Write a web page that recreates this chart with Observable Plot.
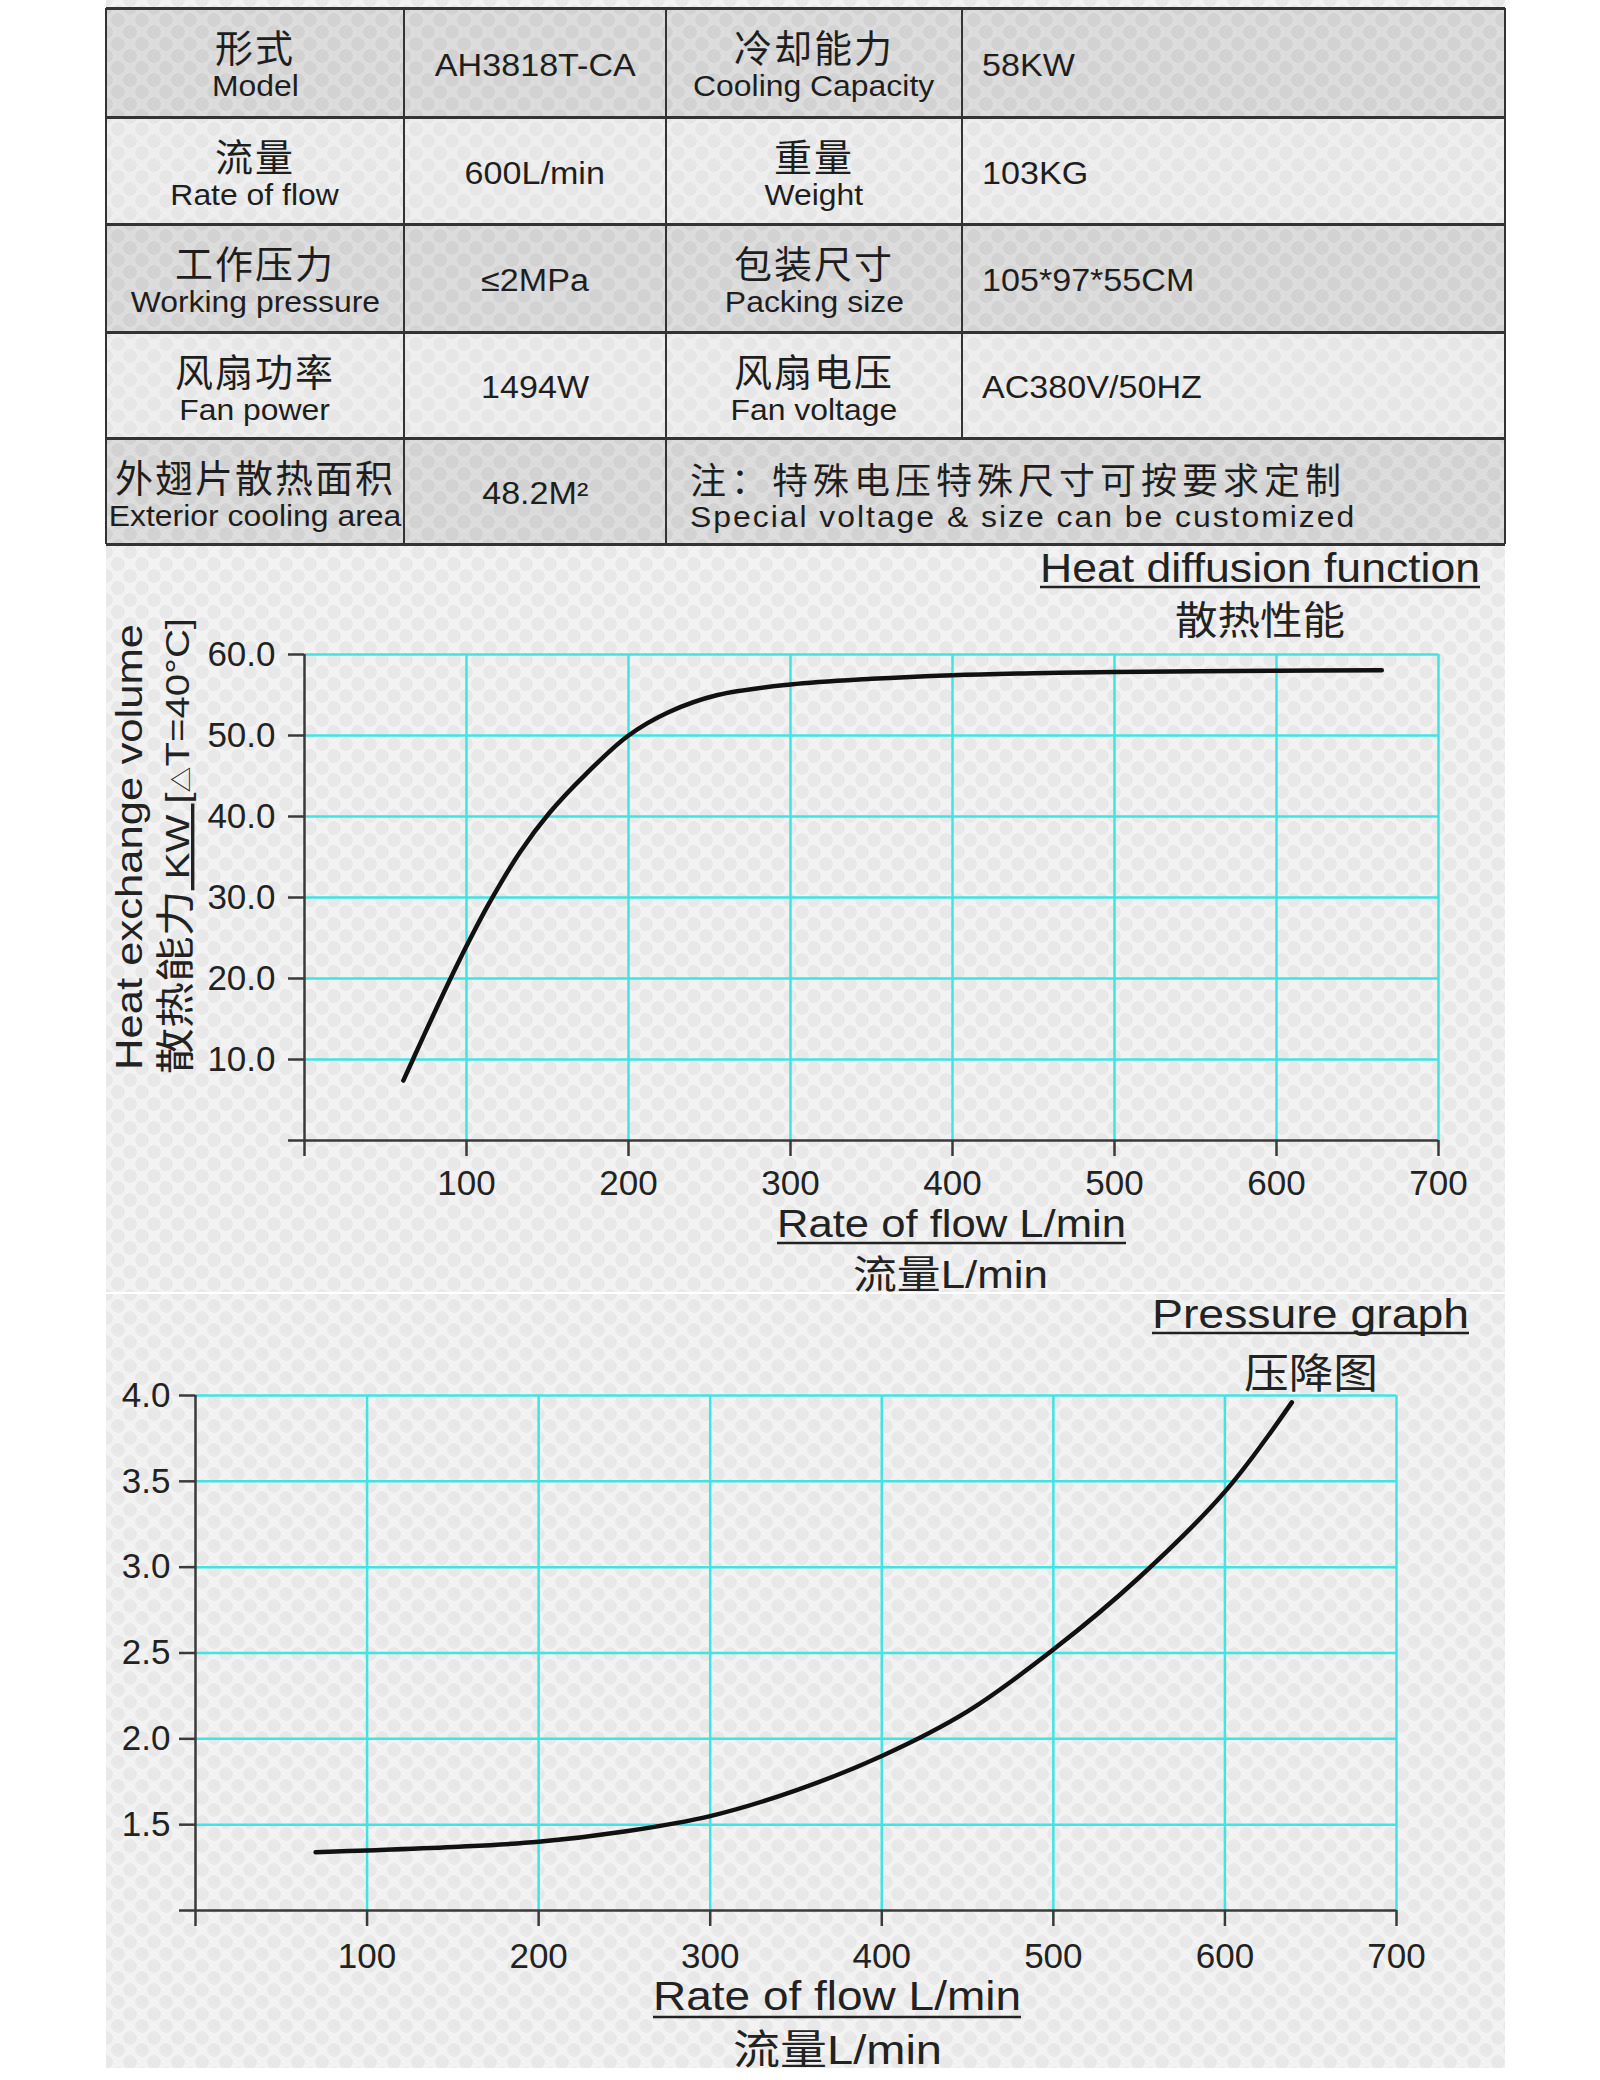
<!DOCTYPE html>
<html><head><meta charset="utf-8">
<script src="https://cdn.jsdelivr.net/npm/d3@7"></script>
<script src="https://cdn.jsdelivr.net/npm/@observablehq/plot@0.6"></script>
<style>
html,body{margin:0;padding:0;width:1600px;height:2080px;overflow:hidden;background:#fff;}
#page{position:relative;width:1600px;height:2080px;font-family:"Liberation Sans","Noto Sans CJK SC",sans-serif;color:#222;}
.bg{position:absolute;left:106px;width:1399px;background-color:#f2f2f2;
 background-image:radial-gradient(circle,#e8e8e8 6.5px,transparent 7px),radial-gradient(circle,#e8e8e8 6.5px,transparent 7px);
 background-size:24px 24px;background-position:0 0,12px 12px;}
.cell{position:absolute;box-sizing:border-box;}
.odd{background-color:#dcdcdc;background-image:radial-gradient(circle,#d2d2d2 6.5px,transparent 7px),radial-gradient(circle,#d2d2d2 6.5px,transparent 7px);background-size:24px 24px;background-position:0 0,12px 12px;}
.even{background-color:#eeeeee;background-image:radial-gradient(circle,#e6e6e6 6.5px,transparent 7px),radial-gradient(circle,#e6e6e6 6.5px,transparent 7px);background-size:24px 24px;background-position:0 0,12px 12px;}
.cn{position:absolute;left:0;right:0;text-align:center;font-family:"Noto Sans CJK SC";font-size:38px;line-height:44px;top:16px;letter-spacing:2px;white-space:nowrap;color:#1e1e1e;}
.en{position:absolute;left:0;right:0;text-align:center;font-size:29px;line-height:36px;top:60px;white-space:nowrap;color:#1e1e1e;}
.val{position:absolute;left:0;right:0;top:0;bottom:0;display:flex;align-items:center;justify-content:center;font-size:31px;padding-top:6px;box-sizing:border-box;white-space:nowrap;color:#1e1e1e;}
.val.left{justify-content:flex-start;padding-left:20px;}
.sx{display:inline-block;transform:scaleX(1.1);}
.left .sx{transform-origin:left center;}
.hl{position:absolute;background:#333;}
.chart{position:absolute;left:0;}
</style>
</head>
<body>
<div id="page">
  <div class="bg" style="top:0;height:1292px"></div>
  <div class="bg" style="top:1294px;height:774px"></div>
  <div id="c1" class="chart" style="top:545px"></div>
  <div id="c2" class="chart" style="top:1293px"></div>
</div>
<script>
// ---------- table data ----------
const labelCN1 = ["形式", "流量", "工作压力", "风扇功率", "外翅片散热面积"];
const labelEN1 = ["Model", "Rate of flow", "Working pressure", "Fan power", "Exterior cooling area"];
const value1 = ["AH3818T-CA", "600L/min", "≤2MPa", "1494W", "48.2M²"];
const labelCN2 = ["冷却能力", "重量", "包装尺寸", "风扇电压"];
const labelEN2 = ["Cooling Capacity", "Weight", "Packing size", "Fan voltage"];
const value2 = ["58KW", "103KG", "105*97*55CM", "AC380V/50HZ"];
const noteCN = "注：特殊电压特殊尺寸可按要求定制";
const noteEN = "Special voltage & size can be customized";

// ---------- chart 1 data: heat diffusion ----------
const flow1 = [61, 74, 88, 100, 114, 133, 151, 174, 200, 225, 255, 300, 350, 400, 450, 500, 600, 665];
const heat1 = [7.4, 13.1, 19.1, 24.0, 29.3, 35.6, 40.4, 45.3, 50.0, 52.9, 55.0, 56.3, 57.0, 57.45, 57.7, 57.85, 58.0, 58.05];
const flowTicks = [0, 100, 200, 300, 400, 500, 600, 700];
const heatTicks = [0, 10, 20, 30, 40, 50, 60];

// ---------- chart 2 data: pressure drop ----------
const flow2 = [70, 100, 150, 200, 250, 300, 350, 400, 450, 500, 550, 600, 639];
const drop2 = [1.34, 1.35, 1.37, 1.40, 1.46, 1.55, 1.70, 1.90, 2.16, 2.52, 2.94, 3.44, 3.96];
const dropTicks = [1.0, 1.5, 2.0, 2.5, 3.0, 3.5, 4.0];

// ---------- table ----------
const rowsY = [8, 117, 224, 332, 438, 544];
const colsX = [106, 404, 666, 962, 1505];
const page = document.getElementById("page");
function el(tag, cls, style, html) {
  const e = document.createElement(tag);
  if (cls) e.className = cls;
  if (style) e.style.cssText = style;
  if (html != null) e.innerHTML = html;
  return e;
}
function box(x0, x1, y0, y1, cls) {
  return el("div", "cell " + cls, `left:${x0}px;top:${y0}px;width:${x1 - x0}px;height:${y1 - y0}px;`);
}
for (let r = 0; r < 5; r++) {
  const y0 = rowsY[r], y1 = rowsY[r + 1];
  const shade = r % 2 === 0 ? "odd" : "even";
  const c1 = box(colsX[0], colsX[1], y0, y1, shade);
  c1.appendChild(el("div", "cn", null, labelCN1[r]));
  c1.appendChild(el("div", "en", null, `<span class="sx">${labelEN1[r]}</span>`));
  page.appendChild(c1);
  const c2 = box(colsX[1], colsX[2], y0, y1, shade);
  c2.appendChild(el("div", "val", null, `<span class="sx">${value1[r]}</span>`));
  page.appendChild(c2);
  if (r < 4) {
    const c3 = box(colsX[2], colsX[3], y0, y1, shade);
    c3.appendChild(el("div", "cn", null, labelCN2[r]));
    c3.appendChild(el("div", "en", null, `<span class="sx">${labelEN2[r]}</span>`));
    page.appendChild(c3);
    const c4 = box(colsX[3], colsX[4], y0, y1, shade);
    c4.appendChild(el("div", "val left", null, `<span class="sx">${value2[r]}</span>`));
    page.appendChild(c4);
  } else {
    const c3 = box(colsX[2], colsX[4], y0, y1, shade);
    c3.appendChild(el("div", "cn", "text-align:left;left:24px;font-size:36px;letter-spacing:5px;top:18px", noteCN));
    c3.appendChild(el("div", "en", "text-align:left;left:24px;letter-spacing:1.8px;top:61px", `<span class="sx" style="transform-origin:left center">${noteEN}</span>`));
    page.appendChild(c3);
  }
}
rowsY.forEach(y => page.appendChild(el("div", "hl", `left:${colsX[0]}px;top:${y - 1.5}px;width:${colsX[4] - colsX[0]}px;height:3.5px;`)));
colsX.forEach((x, i) => {
  const bottom = (i === 3) ? rowsY[4] : rowsY[5];
  page.appendChild(el("div", "hl", `left:${x - 1.25}px;top:${rowsY[0]}px;width:2.5px;height:${bottom - rowsY[0]}px;`));
});

// ---------- charts ----------
const CYAN = "#3fe4e4";
const AXIS = "#3a3a3a";
const FONT = "'Liberation Sans', 'Noto Sans CJK SC', sans-serif";
const CJK = "'Noto Sans CJK SC', sans-serif";

function addText(svg, x, y, str, size, len, opts = {}) {
  const t = d3.select(svg).append("text")
    .attr("x", x).attr("y", y)
    .attr("text-anchor", "start")
    .attr("font-size", size)
    .attr("font-family", opts.family || FONT)
    .attr("fill", "#222")
    .text(str);
  if (len) t.attr("textLength", len).attr("lengthAdjust", "spacingAndGlyphs");
  if (opts.underline) {
    d3.select(svg).append("line")
      .attr("x1", x).attr("x2", x + len)
      .attr("y1", y + opts.underline).attr("y2", y + opts.underline)
      .attr("stroke", "#222").attr("stroke-width", 2.5);
  }
  return t;
}

function chart({height, top, left, right, bottom, yDomain, yTicks, yFmt, xData, yData, tickPad, xPad}) {
  return Plot.plot({
    width: 1600, height,
    marginTop: top, marginRight: right, marginBottom: bottom, marginLeft: left,
    style: {background: "transparent", fontFamily: FONT, fontSize: "35px", color: "#222", overflow: "visible"},
    x: {domain: [0, 700]},
    y: {domain: yDomain},
    marks: [
      Plot.ruleY(yTicks.slice(1), {stroke: CYAN, strokeWidth: 2.5}),
      Plot.ruleX(flowTicks.slice(1), {stroke: CYAN, strokeWidth: 2.5}),
      Plot.ruleX([0], {stroke: AXIS, strokeWidth: 2.5}),
      Plot.ruleY([yDomain[0]], {stroke: AXIS, strokeWidth: 2.5}),
      Plot.axisX({ticks: flowTicks, tickSize: 16, tickPadding: xPad, tickFormat: d => d === 0 ? "" : String(d),
        stroke: AXIS, strokeWidth: 2.5, fill: "#222", fontSize: 35, label: null}),
      Plot.axisY({ticks: yTicks, tickSize: 16, tickPadding: tickPad, tickFormat: (d, i) => i === 0 ? "" : yFmt(d),
        stroke: AXIS, strokeWidth: 2.5, fill: "#222", fontSize: 35, label: null}),
      Plot.line(xData, {x: xData, y: yData, curve: "catmull-rom", stroke: "#111", strokeWidth: 4.5})
    ]
  });
}

// chart 1 (svg top at page y=545)
const svg1 = chart({height: 748, top: 109, left: 304, right: 162, bottom: 153,
  yDomain: [0, 60], yTicks: heatTicks, yFmt: d => d.toFixed(1), xData: flow1, yData: heat1, tickPad: 13, xPad: 14});
document.getElementById("c1").appendChild(svg1);
const o1 = 545;
addText(svg1, 1040, 582 - o1, "Heat diffusion function", 40, 440, {underline: 5});
addText(svg1, 1175, 634 - o1, "散热性能", 39, 170, {family: CJK});
addText(svg1, 777, 1237 - o1, "Rate of flow L/min", 38, 349, {underline: 6});
addText(svg1, 853, 1288 - o1, "流量L/min", 39, 195);
{
  const g = d3.select(svg1).append("g").attr("transform", `translate(142,${1070 - o1}) rotate(-90)`);
  g.append("text").attr("x", 0).attr("y", 0).attr("text-anchor", "start").attr("font-size", 37).attr("font-family", FONT).attr("fill", "#222")
    .attr("textLength", 446).attr("lengthAdjust", "spacingAndGlyphs").text("Heat exchange volume");
  const g2 = d3.select(svg1).append("g").attr("transform", `translate(189,${1074 - o1}) rotate(-90)`);
  const t2 = g2.append("text").attr("x", 0).attr("y", 0).attr("text-anchor", "start").attr("font-family", FONT).attr("fill", "#222")
    .attr("textLength", 456).attr("lengthAdjust", "spacingAndGlyphs");
  t2.append("tspan").attr("font-size", 39).attr("font-family", CJK).text("散热能力");
  t2.append("tspan").attr("font-size", 34).attr("text-decoration", "underline").text(" KW ");
  t2.append("tspan").attr("font-size", 34).text("[");
  t2.append("tspan").attr("font-size", 22).text("△");
  t2.append("tspan").attr("font-size", 34).text("T=40°C]");
}

// chart 2 (svg top at page y=1293)
const svg2 = chart({height: 787, top: 102, left: 195, right: 204, bottom: 170,
  yDomain: [1, 4], yTicks: dropTicks, yFmt: d => d.toFixed(1), xData: flow2, yData: drop2, tickPad: 9, xPad: 17});
document.getElementById("c2").appendChild(svg2);
const o2 = 1293;
addText(svg2, 1152, 1328 - o2, "Pressure graph", 40, 317, {underline: 5});
addText(svg2, 1244, 1388 - o2, "压降图", 41, 134, {family: CJK});
addText(svg2, 653, 2010 - o2, "Rate of flow L/min", 41, 368, {underline: 7});
addText(svg2, 733, 2064 - o2, "流量L/min", 41, 209);
</script>
</body></html>
